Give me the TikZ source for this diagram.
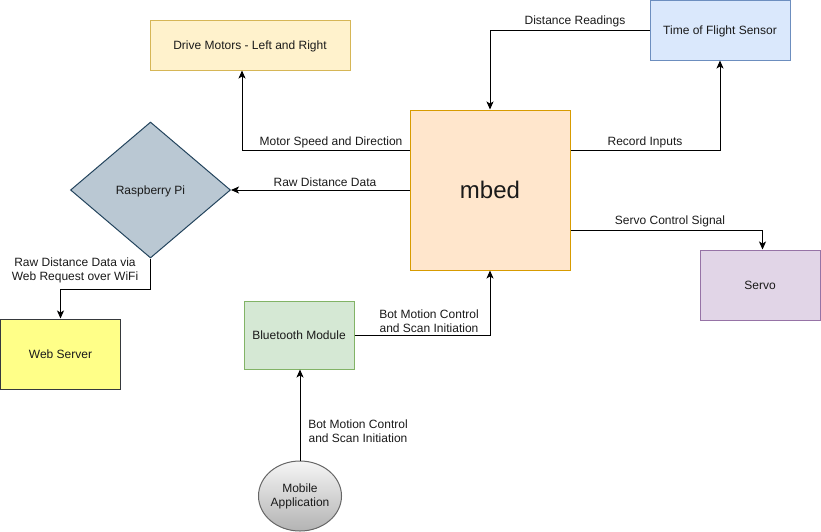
\documentclass[tikz,border=0pt]{standalone}
\usepackage{fontspec}
\setmainfont{Liberation Sans}
\usetikzlibrary{shapes.geometric,arrows.meta}
\definecolor{ylwf}{HTML}{FFF2CC}\definecolor{ylwd}{HTML}{D6B656}
\definecolor{bluf}{HTML}{DAE8FC}\definecolor{blud}{HTML}{6C8EBF}
\definecolor{orgf}{HTML}{FFE6CC}\definecolor{orgd}{HTML}{D79B00}
\definecolor{gryf}{HTML}{BAC8D3}\definecolor{gryd}{HTML}{23445D}
\definecolor{purf}{HTML}{E1D5E7}\definecolor{purd}{HTML}{9673A6}
\definecolor{grnf}{HTML}{D5E8D4}\definecolor{grnd}{HTML}{82B366}
\definecolor{webf}{HTML}{FFFF88}\definecolor{webd}{HTML}{36393D}
\definecolor{mobd}{HTML}{666666}\definecolor{mobt}{HTML}{F5F5F5}\definecolor{mobb}{HTML}{B3B3B3}
\definecolor{txt}{HTML}{1A1A1A}
\tikzset{
  box/.style={rectangle, line width=1pt, inner sep=0pt, text=txt, font=\fontsize{12pt}{14pt}\selectfont, align=center, text height=8.8pt, text depth=0pt},
  arr/.style={line width=1pt, -{Stealth[length=8pt,width=7pt,inset=2pt]}},
  lbl/.style={text=txt, font=\fontsize{12pt}{14pt}\selectfont, align=center, inner sep=0pt},
}
\begin{document}
\begin{tikzpicture}[x=1pt,y=-1pt]
\useasboundingbox (0,0) rectangle (821,531);
\node[box, fill=ylwf, draw=ylwd, minimum width=200pt, minimum height=50pt] (motors) at (250,45) {Drive Motors - Left and Right};
\node[box, fill=bluf, draw=blud, minimum width=140pt, minimum height=60pt] (tof) at (720,30) {Time of Flight Sensor};
\node[box, fill=orgf, draw=orgd, minimum width=160pt, minimum height=160pt, font=\fontsize{24pt}{28pt}\selectfont, text height=17.5pt] (mbed) at (490,190) {mbed};
\node[diamond, line width=1pt, inner sep=0pt, fill=gryf, draw=gryd, minimum width=160pt, minimum height=136pt, text=txt, font=\fontsize{12pt}{14pt}\selectfont, text height=8.8pt, text depth=0pt] (rpi) at (150.5,190) {Raspberry Pi};
\node[box, fill=purf, draw=purd, minimum width=120pt, minimum height=70pt] (servo) at (760,285) {Servo};
\node[box, fill=grnf, draw=grnd, minimum width=110pt, minimum height=68pt] (bt) at (299,335) {Bluetooth Module};
\node[box, fill=webf, draw=webd, minimum width=120pt, minimum height=70pt] (web) at (60.5,354) {Web Server};
\node[ellipse, line width=1pt, inner sep=0pt, draw=mobd, top color=mobt, bottom color=mobb, minimum width=80pt, minimum height=70pt, text=txt, align=center, font=\fontsize{12pt}{14pt}\selectfont] (mob) at (300,496) {Mobile\\Application};

\draw[arr] (mbed.west |- 0,150) -| ([xshift=-8pt]motors.south);
\node[lbl] (l1) at (331,142) {Motor Speed and Direction};
\draw[arr] (mbed.west) -- (rpi.east);
\node[lbl] (l2) at (325,182) {Raw Distance Data};
\draw[arr] (mbed.east |- 0,150) -| (tof.south);
\node[lbl] (l3) at (645,142) {Record Inputs};
\draw[arr] (tof.west) -| (mbed.north);
\node[lbl] (l4) at (575,21) {Distance Readings};
\draw[arr] (mbed.east |- 0,230) -| ([xshift=2.5pt]servo.north);
\node[lbl] (l5) at (670,221) {Servo Control Signal};
\draw[arr] (rpi.south) -- (rpi.south |- 0,289) -| (web.north);
\node[lbl] (l6) at (75,270.5) {Raw Distance Data via\\Web Request over WiFi};
\draw[arr] (bt.east) -| (mbed.south);
\node[lbl] (l7) at (429,321) {Bot Motion Control\\and Scan Initiation};
\draw[arr] (mob.north) -- (mob.north |- bt.south);
\node[lbl] (l8) at (358,431.5) {Bot Motion Control\\and Scan Initiation};
\end{tikzpicture}
\end{document}
